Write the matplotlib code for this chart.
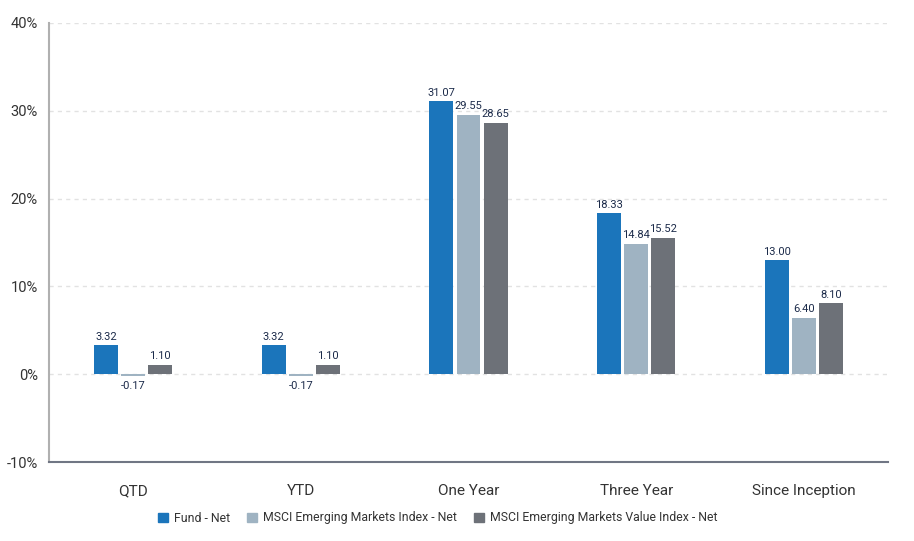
import matplotlib
matplotlib.use("Agg")
import matplotlib.pyplot as plt
from matplotlib.patches import Patch
import numpy as np

plt.rcParams['font.family'] = ['Roboto', 'DejaVu Sans']

categories = ["QTD", "YTD", "One Year", "Three Year", "Since Inception"]
series_names = ["Fund - Net", "MSCI Emerging Markets Index - Net", "MSCI Emerging Markets Value Index - Net"]
fund = [3.32, 3.32, 31.07, 18.33, 13.00]
msci_em = [-0.17, -0.17, 29.55, 14.84, 6.40]
msci_value = [1.10, 1.10, 28.65, 15.52, 8.10]
y_ticks = [-10, 0, 10, 20, 30, 40]
colors = ["#1b75bb", "#9fb3c2", "#6d7178"]

fig = plt.figure(figsize=(9.14, 5.41), dpi=100)
ax = fig.add_axes([49/914, 1-462/541, (888-49)/914, (462-23)/541])

x = np.arange(len(categories))
width = 0.143
step = 0.161
for i, (vals, col) in enumerate(zip([fund, msci_em, msci_value], colors)):
    pos = x + (i-1)*step
    ax.bar(pos, vals, width=width, color=col, zorder=3)
    for p, v in zip(pos, vals):
        if v >= 0:
            ax.text(p, v + 0.4, f"{v:.2f}", ha="center", va="bottom", fontsize=8, color="#1c2b4a", zorder=4)
        else:
            ax.text(p, v - 0.6, f"{v:.2f}", ha="center", va="top", fontsize=8, color="#1c2b4a", zorder=4)

ax.set_xlim(-0.5, len(categories)-0.5)
ax.set_ylim(-10, 40)
ax.set_yticks(y_ticks)
ax.set_yticklabels([f"{t}%" for t in y_ticks], fontsize=10.5, color="#333333")
ax.set_xticks(x)
ax.set_xticklabels(categories, fontsize=11, color="#333333")
ax.tick_params(axis="both", length=0)
ax.tick_params(axis="x", pad=16)
ax.tick_params(axis="y", pad=8)

for t in y_ticks[1:]:
    ax.axhline(t, color="#e2e2e2", lw=1, ls=(0, (3, 3)), zorder=1)

for s in ["top", "right"]:
    ax.spines[s].set_visible(False)
ax.spines["left"].set_color("#b0b0b0")
ax.spines["left"].set_linewidth(1.5)
ax.spines["bottom"].set_color("#707684")
ax.spines["bottom"].set_linewidth(1.5)

handles = [Patch(color=c, label=n) for c, n in zip(colors, series_names)]
fig.legend(handles=handles, loc="center", bbox_to_anchor=(438/914, 1-518/541), ncol=3,
           frameon=False, fontsize=8.8, handlelength=0.8, handleheight=0.8,
           handletextpad=0.5, columnspacing=1.4, labelcolor="#333333")

fig.savefig("out.png", dpi=100)
